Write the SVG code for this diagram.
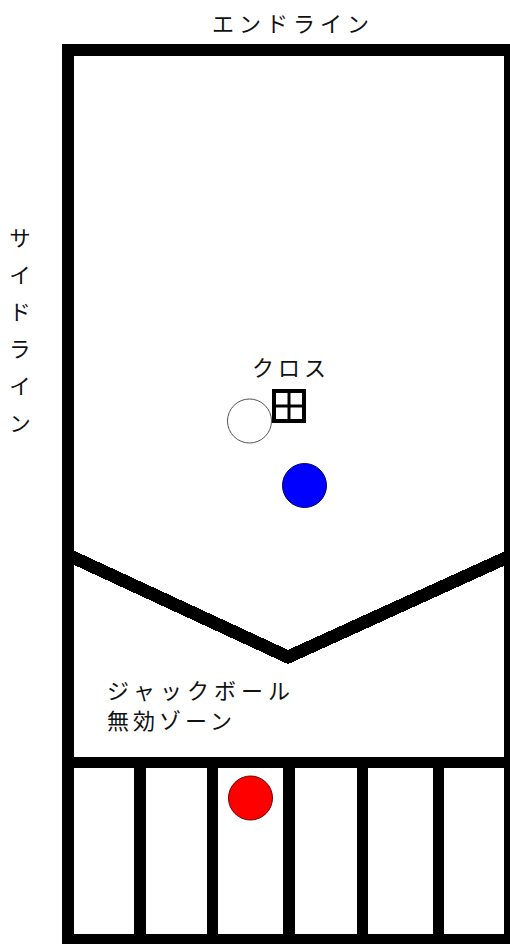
<svg xmlns="http://www.w3.org/2000/svg" width="510" height="944" viewBox="0 0 510 944">
  <style>
    .ln { fill: none; stroke: #000; }
    .lbl { font-family: "Noto Sans CJK JP", "Noto Sans", sans-serif; fill: #111; font-size: 22px; }
  </style>
  <rect width="510" height="944" fill="#fff"/>
  <g id="court">
    <rect class="ln" x="68" y="50" width="442" height="890" stroke-width="12"/>
    <line class="ln" x1="68" y1="762.5" x2="510" y2="762.5" stroke-width="11"/>
  </g>
  <g id="boxes">
    <line class="ln" x1="140" y1="762" x2="140" y2="940" stroke-width="12"/>
    <line class="ln" x1="212.5" y1="762" x2="212.5" y2="940" stroke-width="11"/>
    <line class="ln" x1="289" y1="762" x2="289" y2="940" stroke-width="12"/>
    <line class="ln" x1="362.5" y1="762" x2="362.5" y2="940" stroke-width="11"/>
    <line class="ln" x1="438.5" y1="762" x2="438.5" y2="940" stroke-width="11"/>
  </g>
  <g id="v-line">
    <polyline class="ln" points="68,555 288,657 510,556" stroke-width="13" shape-rendering="crispEdges"/>
  </g>
  <g id="cross">
    <rect x="274" y="391" width="30" height="30" fill="#fff" stroke="#000" stroke-width="4"/>
    <line x1="289" y1="391" x2="289" y2="421" stroke="#000" stroke-width="3"/>
    <line x1="274" y1="406" x2="304" y2="406" stroke="#000" stroke-width="3"/>
  </g>
  <g id="jack-ball">
    <circle cx="249.5" cy="421" r="22" fill="#fff" stroke="#555" stroke-width="1"/>
  </g>
  <g id="blue-ball">
    <circle cx="304.5" cy="485.5" r="22" fill="#0000ff" stroke="#000066" stroke-width="1"/>
  </g>
  <g id="red-ball">
    <circle cx="250.5" cy="798" r="22" fill="#ff0000" stroke="#660000" stroke-width="1"/>
  </g>
  <g id="labels">
    <text class="lbl" x="212" y="32" letter-spacing="5">エンドライン</text>
    <text class="lbl" x="20" y="227" writing-mode="vertical-rl" letter-spacing="15">サイドライン</text>
    <text class="lbl" x="252" y="376" letter-spacing="4">クロス</text>
    <text class="lbl" x="107" y="699" letter-spacing="5">ジャックボール</text>
    <text class="lbl" x="107" y="729" letter-spacing="4">無効ゾーン</text>
  </g>
</svg>
